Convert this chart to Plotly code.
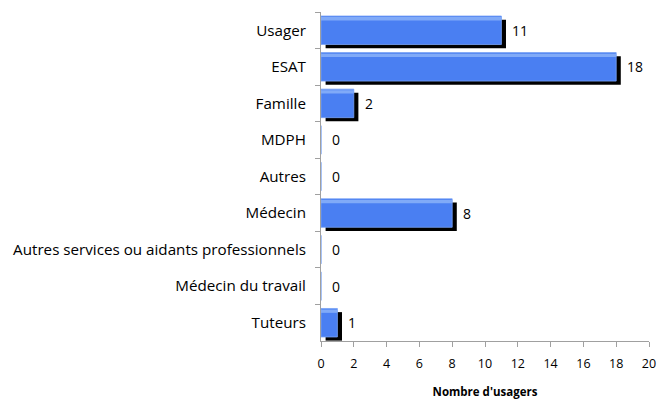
import plotly.graph_objects as go

categories = ["Usager", "ESAT", "Famille", "MDPH", "Autres", "Médecin",
              "Autres services ou aidants professionnels", "Médecin du travail", "Tuteurs"]
values = [11, 18, 2, 0, 0, 8, 0, 0, 1]
x_ticks = [0, 2, 4, 6, 8, 10, 12, 14, 16, 18, 20]
x_title = "Nombre d'usagers"

FONT = "Open Sans, sans-serif"
BAR_W = 0.78

fig = go.Figure()
# shadow
fig.add_trace(go.Bar(
    y=categories, x=values, base=0.28, orientation="h", width=BAR_W, offset=-BAR_W/2 + 0.1,
    marker=dict(color="#000000", line=dict(width=0)), hoverinfo="skip", showlegend=False))
# main bar
fig.add_trace(go.Bar(
    y=categories, x=values, orientation="h", width=BAR_W, offset=-BAR_W/2,
    marker=dict(color="#4a7ff2", line=dict(width=0.8, color="#7aa3f5")), showlegend=False))
# highlight
fig.add_trace(go.Bar(
    y=categories, x=values, orientation="h", width=0.09, offset=-BAR_W/2 + 0.03,
    marker=dict(color="#80aaf8", line=dict(width=0)), hoverinfo="skip", showlegend=False))

annotations = [dict(x=v, y=c, xref="x", yref="y", text=str(v), showarrow=False,
                    xanchor="left", yanchor="middle", xshift=9,
                    font=dict(family=FONT, size=14, color="#000"))
               for c, v in zip(categories, values)]

fig.update_layout(
    width=657, height=400, barmode="overlay",
    margin=dict(l=321, r=8, t=12, b=59),
    paper_bgcolor="white", plot_bgcolor="white",
    font=dict(family=FONT, size=15, color="#000"),
    annotations=annotations,
    xaxis=dict(range=[0, 20], tickvals=x_ticks, showgrid=False, zeroline=False,
               showline=True, linecolor="#a0a0a0", linewidth=1, ticks="outside",
               ticklen=5, tickcolor="#a0a0a0", tickfont=dict(size=12.5),
               ticklabelstandoff=6, automargin=False,
               title=dict(text=f"<b>{x_title}</b>", font=dict(size=11.5), standoff=16)),
    yaxis=dict(autorange="reversed", showgrid=False, zeroline=False, showline=True,
               linecolor="#a0a0a0", linewidth=1, ticks="outside", ticklen=5,
               tickcolor="#a0a0a0", tickson="boundaries", ticklabelstandoff=11,
               automargin=False, tickfont=dict(size=15.2)),
)

fig.write_html("out.html", config={"displayModeBar": False},
               post_script="document.body.style.margin='0';")
